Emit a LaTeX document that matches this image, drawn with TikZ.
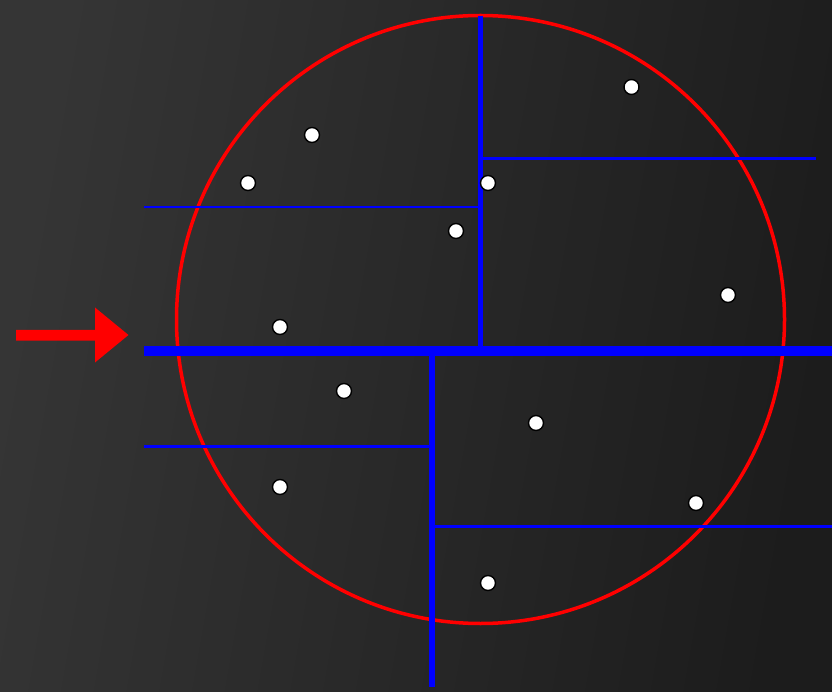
\documentclass[tikz,border=0pt]{standalone}
\usetikzlibrary{shapes.geometric}
\definecolor{bgL}{HTML}{353535}
\definecolor{bgR}{HTML}{1C1C1C}
\definecolor{kblue}{HTML}{0000FF}
\definecolor{kred}{HTML}{FF0000}
\tikzset{
  pt/.style={circle,draw=black,fill=white,line width=1.4pt,inner sep=0pt,minimum size=15pt},
  splitmain/.style={kblue,line width=10pt},
  splitmid/.style={kblue,line width=5.5pt},
  splitthin/.style={kblue,line width=2.5pt},
}
\begin{document}
\begin{tikzpicture}[x=1pt,y=-1pt]
\useasboundingbox (0,0) rectangle (832,692);
\shade[shading=axis,left color=bgL,right color=bgR,shading angle=80] (0,0) rectangle (832,692);
% circle
\draw[kred,line width=3.5pt] (480.5,319.5) circle[radius=304];
% splitting lines
\coordinate (hL) at (144,351);
\coordinate (hR) at (832,351);
\coordinate (uT) at (480.5,16);
\coordinate (uB) at (480.5,351);
\coordinate (lT) at (432,351);
\coordinate (lB) at (432,687);
\coordinate (ulL) at (144,207);
\coordinate (ulR) at (480.5,207);
\coordinate (urL) at (480.5,158.5);
\coordinate (urR) at (816,158.5);
\coordinate (llL) at (144,446.5);
\coordinate (llR) at (432,446.5);
\coordinate (lrL) at (432,526.5);
\coordinate (lrR) at (832,526.5);
\draw[splitthin] (ulL) -- (ulR);
\draw[splitthin] (urL) -- (urR);
\draw[splitthin] (llL) -- (llR);
\draw[splitthin] (lrL) -- (lrR);
\draw[splitmid] (uT) -- (uB);
\draw[splitmid] (lT) -- (lB);
\draw[splitmain] (hL) -- (hR);
% arrow
\fill[kred] (16,330) -- (95,330) -- (95,307.5) -- (128.5,335) -- (95,362.5) -- (95,340.5) -- (16,340.5) -- cycle;
% points
\node[pt] (p1) at (312,135) {};
\node[pt] (p2) at (248,183) {};
\node[pt] (p3) at (631.5,87) {};
\node[pt] (p4) at (488,183) {};
\node[pt] (p5) at (456,231) {};
\node[pt] (p6) at (728,295) {};
\node[pt] (p7) at (280,327) {};
\node[pt] (p8) at (344,391) {};
\node[pt] (p9) at (536,423) {};
\node[pt] (p10) at (280,487) {};
\node[pt] (p11) at (696,503) {};
\node[pt] (p12) at (488,583) {};
\end{tikzpicture}
\end{document}
